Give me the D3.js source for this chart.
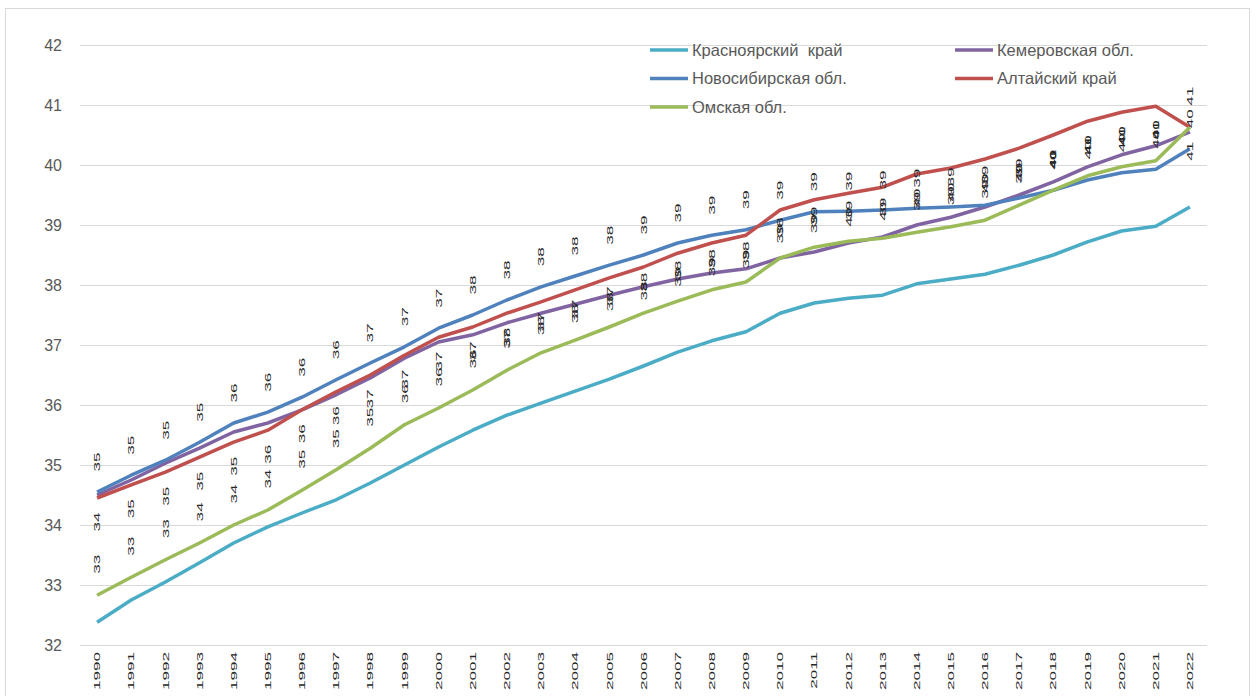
<!DOCTYPE html>
<html><head><meta charset="utf-8">
<script src="https://cdn.jsdelivr.net/npm/d3@7"></script>
<style>body{margin:0;background:#fff}svg{display:block}</style>
</head><body>
<svg id="c" width="1256" height="696"></svg>
<script>
const years = d3.range(1990, 2023).map(String);
const yTicks = [32,33,34,35,36,37,38,39,40,41,42];
const seriesNames = ["Красноярский  край","Кемеровская обл.","Новосибирская обл.","Алтайский край","Омская обл."];
const seriesColors = ["#4BACC6","#8064A2","#4F81BD","#C0504D","#9BBB59"];
const krasnoyarsk = [32.38,32.75,33.05,33.37,33.7,33.97,34.2,34.42,34.7,35.0,35.3,35.58,35.83,36.03,36.23,36.43,36.65,36.88,37.07,37.22,37.53,37.7,37.78,37.83,38.02,38.1,38.18,38.33,38.5,38.72,38.9,38.98,39.3];
const kemerovo = [34.5,34.75,35.03,35.28,35.55,35.7,35.92,36.17,36.45,36.78,37.05,37.17,37.37,37.53,37.68,37.83,37.97,38.1,38.2,38.27,38.45,38.55,38.7,38.8,39.0,39.13,39.3,39.5,39.72,39.97,40.17,40.32,40.55];
const novosibirsk = [34.55,34.83,35.08,35.38,35.7,35.88,36.13,36.42,36.7,36.97,37.28,37.5,37.75,37.97,38.15,38.33,38.5,38.7,38.83,38.92,39.08,39.22,39.23,39.25,39.28,39.3,39.33,39.45,39.58,39.75,39.87,39.93,40.27];
const altai = [34.45,34.67,34.88,35.13,35.38,35.58,35.92,36.22,36.5,36.83,37.13,37.3,37.53,37.72,37.92,38.12,38.3,38.53,38.7,38.83,39.25,39.42,39.53,39.63,39.85,39.95,40.1,40.28,40.5,40.73,40.88,40.98,40.63];
const omsk = [32.83,33.13,33.42,33.7,34.0,34.25,34.58,34.92,35.28,35.67,35.95,36.25,36.58,36.87,37.08,37.3,37.53,37.73,37.92,38.05,38.45,38.63,38.73,38.78,38.88,38.97,39.08,39.33,39.58,39.82,39.97,40.07,40.63];
const seriesValues = [krasnoyarsk, kemerovo, novosibirsk, altai, omsk];

const svg = d3.select("#c");
const x = d3.scaleBand().domain(years).range([80, 1207]).padding(0);
const y = d3.scaleLinear().domain([32, 42]).range([645, 45]);
const cx = d => x(d) + x.bandwidth()/2;

// chart border
svg.append("rect").attr("x",5.5).attr("y",8.5).attr("width",1244).attr("height",700)
  .attr("fill","none").attr("stroke","#d9d9d9");

// gridlines
svg.append("g").selectAll("line").data(yTicks).join("line")
  .attr("x1",80).attr("x2",1207).attr("y1",d=>Math.round(y(d))+0.5).attr("y2",d=>Math.round(y(d))+0.5)
  .attr("stroke","#d9d9d9").attr("stroke-width",1);

// y axis labels
const yAxis = d3.axisLeft(y).tickValues(yTicks).tickSize(0).tickPadding(0).tickFormat(d3.format("d"));
const gy = svg.append("g").attr("transform","translate(62,0)").call(yAxis);
gy.select(".domain").remove();
gy.selectAll("text").attr("font-family","Liberation Sans, Arial, sans-serif").attr("font-size",16).attr("fill","#595959");

// x axis labels (rotated)
svg.append("g").selectAll("text").data(years).join("text")
  .attr("transform", d => `translate(${cx(d)},652) rotate(-90) scale(1.9,1)`)
  .attr("text-anchor","end").attr("dy","0.35em")
  .attr("font-family","Liberation Sans, Arial, sans-serif").attr("font-size",9).attr("fill","#262626")
  .text(d=>d);

// lines
const line = d3.line().x((d,i)=>cx(years[i])).y(d=>y(d));
svg.append("g").selectAll("path").data(seriesValues).join("path")
  .attr("d", d=>line(d)).attr("fill","none")
  .attr("stroke",(d,i)=>seriesColors[i]).attr("stroke-width",3.5)
  .attr("stroke-linejoin","round").attr("stroke-linecap","butt");

// data labels (rotated, like reference)
const labelSets = [{vals: novosibirsk, dy: -30},{vals: altai, dy: 24},{vals: omsk, dy: -31}];
labelSets.forEach(s => {
  svg.append("g").selectAll("text").data(s.vals).join("text")
    .attr("transform",(d,i)=>`translate(${cx(years[i])},${y(d)+s.dy}) rotate(-90) scale(1.9,1)`)
    .attr("text-anchor","middle").attr("dy","0.35em")
    .attr("font-family","Liberation Sans, Arial, sans-serif").attr("font-size",9).attr("fill","#262626")
    .text(d=>Math.round(d));
});

// legend
const legPos = [[650,50],[955,50],[650,78.5],[955,78.5],[650,107]];
const lg = svg.append("g").selectAll("g").data(seriesNames).join("g")
  .attr("transform",(d,i)=>`translate(${legPos[i][0]},${legPos[i][1]})`);
lg.append("line").attr("x1",0).attr("x2",38).attr("y1",0).attr("y2",0)
  .attr("stroke",(d,i)=>seriesColors[i]).attr("stroke-width",3.5);
lg.append("text").attr("x",42).attr("dy","0.35em")
  .attr("font-family","Liberation Sans, Arial, sans-serif").attr("font-size",16.5).attr("fill","#595959")
  .attr("xml:space","preserve").style("white-space","pre")
  .text(d=>d);
</script>
</body></html>
